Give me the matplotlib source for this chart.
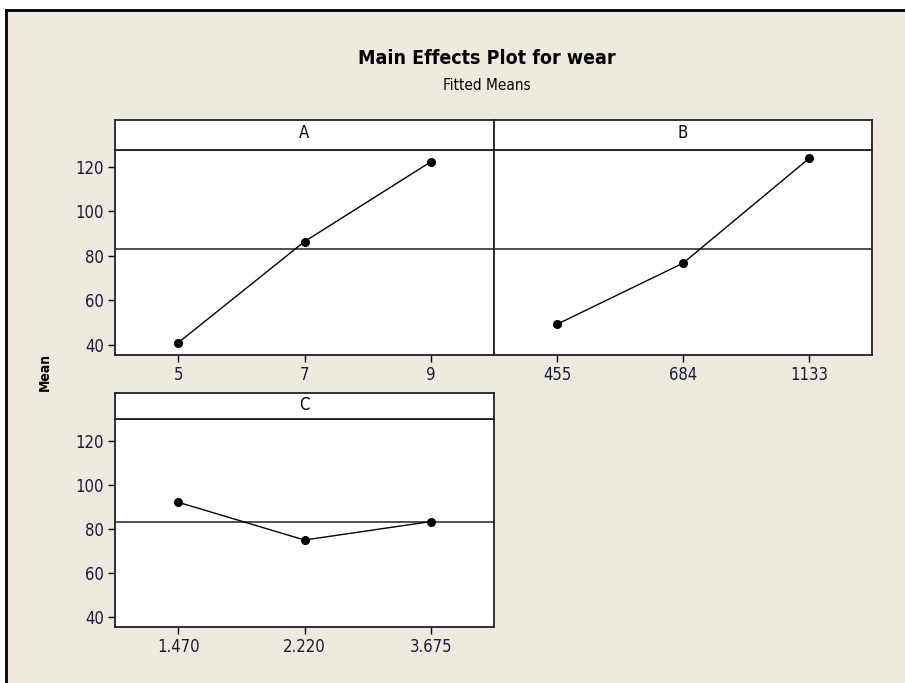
import matplotlib
matplotlib.use('Agg')
import matplotlib.pyplot as plt
from matplotlib.patches import Rectangle
from matplotlib.lines import Line2D

plt.rcParams['font.family'] = ['DejaVu Sans']
plt.rcParams['font.stretch'] = 'condensed'

# fitted means
a_levels = ['5', '7', '9']
a_means = [41.0, 86.4, 122.2]
b_levels = ['455', '684', '1133']
b_means = [49.3, 76.7, 123.7]
c_levels = ['1.470', '2.220', '3.675']
c_means = [92.1, 74.9, 83.3]
grand_mean = 83.2
yticks = [40, 60, 80, 100, 120]

W, H = 905, 683
fig = plt.figure(figsize=(W / 100, H / 100), dpi=100)
fig.patch.set_facecolor('#efeae0')

# white screenshot margin + black window frame
fig.patches.append(Rectangle((0, 1 - 10 / H), 1, 10 / H, transform=fig.transFigure,
                             facecolor='white', edgecolor='none', zorder=0))
fig.patches.append(Rectangle((0, 0), 6 / W, 1, transform=fig.transFigure,
                             facecolor='white', edgecolor='none', zorder=0))
fig.lines.append(Line2D([6 / W, 6 / W], [0, 1 - 10 / H], transform=fig.transFigure, color='black', lw=2))
fig.lines.append(Line2D([6 / W, 1], [1 - 10 / H, 1 - 10 / H], transform=fig.transFigure, color='black', lw=2))


def px_box(left, top, right, bottom):
    return [left / W, 1 - bottom / H, (right - left) / W, (bottom - top) / H]


def panel(box, strip_box, name, levels, means, ylim, show_y):
    ax = fig.add_axes(px_box(*box))
    ax.plot(range(len(levels)), means, color='black', lw=1, marker='o', ms=5.5, zorder=3)
    ax.axhline(grand_mean, color='#333333', lw=1.2, zorder=2)
    ax.set_xlim(-0.5, 2.5)
    ax.set_ylim(*ylim)
    ax.set_xticks(range(len(levels)))
    ax.set_xticklabels(levels, fontsize=12, color='#1a1a3a')
    if show_y:
        ax.set_yticks(yticks)
        ax.set_yticklabels([str(v) for v in yticks], fontsize=12, color='#1a1a3a')
    else:
        ax.set_yticks([])
    ax.tick_params(direction='out', length=5, width=1, pad=3)
    for s in ax.spines.values():
        s.set_linewidth(1.3)
        s.set_color('#222222')
    sx = fig.add_axes(px_box(*strip_box))
    sx.set_xticks([])
    sx.set_yticks([])
    for s in sx.spines.values():
        s.set_linewidth(1.3)
        s.set_color('#222222')
    sx.text(0.5, 0.55, name, ha='center', va='center', fontsize=12, transform=sx.transAxes)
    return ax


panel((115, 150, 494, 355), (115, 120, 494, 150), 'A', a_levels, a_means, (35.5, 127.5), True)
panel((494, 150, 872, 355), (494, 120, 872, 150), 'B', b_levels, b_means, (35.5, 127.5), False)
panel((115, 419, 494, 627), (115, 393, 494, 419), 'C', c_levels, c_means, (35.3, 130), True)

fig.text(487 / W, 1 - 59 / H, 'Main Effects Plot for wear', ha='center', va='center',
         fontsize=14, fontweight='bold')
fig.text(487 / W, 1 - 85 / H, 'Fitted Means', ha='center', va='center', fontsize=11)
fig.text(45 / W, 1 - 372 / H, 'Mean', ha='center', va='center', rotation=90,
         fontsize=10, fontweight='bold')

fig.savefig('out.png', dpi=100, facecolor=fig.get_facecolor())
